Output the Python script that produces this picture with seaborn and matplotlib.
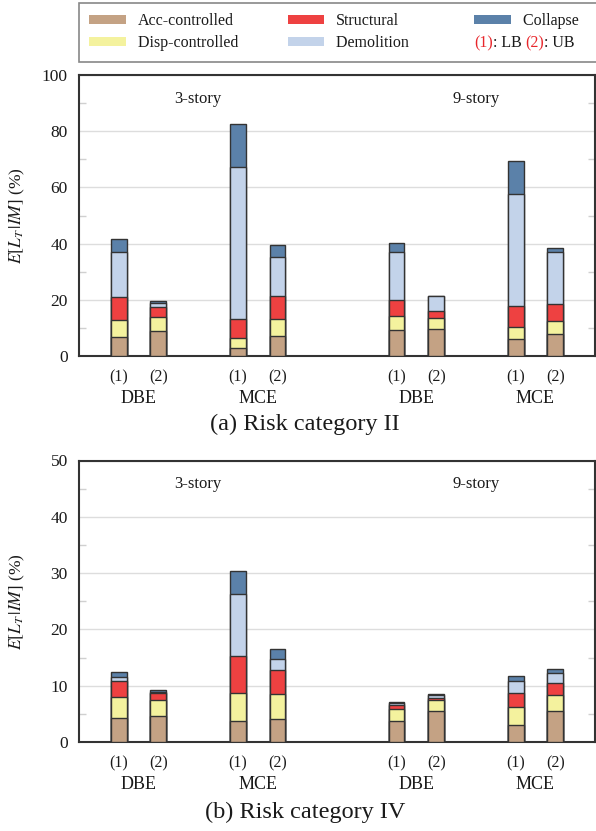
import numpy as np
import pandas as pd
import matplotlib
matplotlib.use("Agg")
import matplotlib.pyplot as plt
import matplotlib.transforms as mtransforms
from matplotlib.patches import Patch
from matplotlib.offsetbox import TextArea, HPacker, AnnotationBbox
from matplotlib.ticker import MultipleLocator
import seaborn as sns

# ---------------- data ----------------
stories = ["3-story", "9-story"]
hazards = ["DBE", "MCE"]
bounds = ["(1)", "(2)"]
components = ["Acc-controlled", "Disp-controlled", "Structural", "Demolition", "Collapse"]
panel_titles = ["(a) Risk category II", "(b) Risk category IV"]

# bar order: 3-story DBE(1), DBE(2), MCE(1), MCE(2), 9-story DBE(1), DBE(2), MCE(1), MCE(2)
# Risk category II (segment heights, %)
rc2_acc = [6.7, 8.9, 2.7, 7.0, 9.1, 9.6, 6.1, 7.8]
rc2_disp = [6.1, 4.9, 3.8, 6.1, 5.0, 3.8, 4.3, 4.8]
rc2_struct = [8.1, 3.5, 6.7, 8.1, 5.9, 2.7, 7.4, 5.8]
rc2_demol = [16.0, 1.6, 53.9, 14.1, 16.9, 5.1, 39.9, 18.7]
rc2_coll = [4.6, 0.6, 15.3, 4.2, 3.2, 0.3, 11.8, 1.4]

# Risk category IV (segment heights, %)
rc4_acc = [4.2, 4.6, 3.7, 4.1, 3.7, 5.45, 3.1, 5.5]
rc4_disp = [3.85, 2.8, 4.95, 4.4, 2.1, 1.95, 3.1, 2.9]
rc4_struct = [2.75, 1.3, 6.65, 4.2, 0.8, 0.5, 2.5, 2.1]
rc4_demol = [0.8, 0.2, 11.0, 2.0, 0.3, 0.4, 2.2, 1.8]
rc4_coll = [0.8, 0.3, 4.1, 1.9, 0.2, 0.2, 0.9, 0.7]

ylims = [100, 50]
ymajor = [20, 10]

# ---------------- style ----------------
sns.set_theme(style="white")
plt.rcParams["font.family"] = ["Liberation Serif", "DejaVu Serif"]
plt.rcParams["mathtext.fontset"] = "stix"

colors = ["#C4A284", "#F4F29E", "#EE4141", "#C3D3EA", "#5B81A9"]
edge = "#333333"
text_c = "#1a1a1a"

W, H = 596, 831
fig = plt.figure(figsize=(W / 100, H / 100), dpi=100)

def fx(px):
    return px / W

def fy(py):
    return 1 - py / H

ax_top = fig.add_axes([fx(79), fy(356), fx(595) - fx(79), fy(75) - fy(356)])
ax_bot = fig.add_axes([fx(79), fy(742), fx(595) - fx(79), fy(460.5) - fy(742)])

# positions derived from the category structure
xpos = []
xlabels = []
for si, s in enumerate(stories):
    for hi, h in enumerate(hazards):
        for bi, b in enumerate(bounds):
            xpos.append(3 + si * 7 + hi * 3 + bi)
            xlabels.append(b)
xpos = np.array(xpos, dtype=float)

panels = [
    (ax_top, [rc2_acc, rc2_disp, rc2_struct, rc2_demol, rc2_coll]),
    (ax_bot, [rc4_acc, rc4_disp, rc4_struct, rc4_demol, rc4_coll]),
]
title_off = [-49, -51]

for pi, (ax, segs) in enumerate(panels):
    cum = np.cumsum(np.array(segs), axis=0)
    for k in reversed(range(len(components))):
        df = pd.DataFrame({"x": xpos, "y": cum[k]})
        sns.barplot(data=df, x="x", y="y", native_scale=True, width=0.4,
                    color=colors[k], saturation=1, edgecolor=edge, linewidth=1.0,
                    errorbar=None, ax=ax, zorder=3)
    ax.set_xlim(2, 15)
    ax.set_ylim(0, ylims[pi])
    ax.yaxis.set_major_locator(MultipleLocator(ymajor[pi]))
    ax.yaxis.set_minor_locator(MultipleLocator(ymajor[pi] / 2))
    ax.grid(axis="y", which="major", color="#dddddd", linewidth=1.0, zorder=0)
    ax.set_axisbelow(True)
    ax.set_xticks(xpos, labels=xlabels)
    ax.tick_params(axis="x", which="both", length=0, pad=9.5, labelsize=11.5, colors=text_c)
    ax.tick_params(axis="y", which="major", length=0, pad=8, labelsize=12.5, colors=text_c)
    ax.tick_params(axis="y", which="minor", left=True, right=True, direction="in",
                   length=5, width=1.0, color="#d0d0d0")
    for sp in ax.spines.values():
        sp.set_visible(True)
        sp.set_color("#333333")
        sp.set_linewidth(1.5)
    ax.set_xlabel("")
    ax.set_ylabel(r"$E[L_T\,|IM]$ (%)", fontsize=12.5, color=text_c)
    ax.yaxis.set_label_coords((27 - 79) / (595 - 79), 0.5)

    trans = mtransforms.blended_transform_factory(ax.transData, ax.transAxes)
    for si, s in enumerate(stories):
        cx = 3 + si * 7 + 2
        ax.text(cx, 0.915, s, transform=trans, ha="center", va="center",
                fontsize=12, color=text_c)
        for hi, h in enumerate(hazards):
            hx = 3 + si * 7 + hi * 3 + 0.5
            ax.annotate(h, xy=(hx, 0), xycoords=trans, xytext=(0, -30.5),
                        textcoords="offset points", ha="center", va="center",
                        fontsize=13, color=text_c)
    ax.annotate(panel_titles[pi], xy=(fx(305), 0), xycoords=("figure fraction", "axes fraction"),
                xytext=(0, title_off[pi]), textcoords="offset points", ha="center", va="center",
                fontsize=17.5, color=text_c)

# ---------------- legend ----------------
handles = [Patch(facecolor=c, edgecolor="none") for c in colors]
blank = Patch(facecolor="none", edgecolor="none")
order_h = [handles[0], handles[1], handles[2], handles[3], handles[4], blank]
# trailing spaces only widen the legend columns to match the reference spacing
order_l = [components[0], components[1] + "    ", components[2],
           components[3] + "        ", components[4] + "  ", " "]
leg = fig.legend(order_h, order_l, ncol=3, loc="upper left",
                 bbox_to_anchor=(fx(79), fy(3) - 0.01, fx(597) - fx(79), 0.01), mode="expand",
                 fontsize=11.5, handlelength=2.3, handleheight=0.5, handletextpad=0.75,
                 labelspacing=0.38, borderpad=0.65, borderaxespad=0,
                 frameon=True, fancybox=False, edgecolor="#888888", framealpha=1)
leg.get_frame().set_linewidth(1.2)
for t in leg.get_texts():
    t.set_color(text_c)

parts = [("(1)", "#e8262b"), (": LB ", text_c), ("(2)", "#e8262b"), (": UB", text_c)]
box = HPacker(children=[TextArea(s, textprops=dict(color=c, fontsize=11.5,
                                                    family=["Liberation Serif", "DejaVu Serif"]))
                        for s, c in parts], pad=0, sep=0, align="baseline")
fig.canvas.draw()
renderer = fig.canvas.get_renderer()
hb = leg.legend_handles[4].get_window_extent(renderer)
tb = leg.get_texts()[1].get_window_extent(renderer)
x0 = hb.x0 / fig.bbox.width
y0 = (tb.y0 + tb.y1) / 2 / fig.bbox.height
ab = AnnotationBbox(box, (x0, y0), xycoords="figure fraction",
                    box_alignment=(0, 0.5), frameon=False, pad=0)
ab.set_zorder(10)
fig.add_artist(ab)

fig.savefig("out.png", dpi=100)
